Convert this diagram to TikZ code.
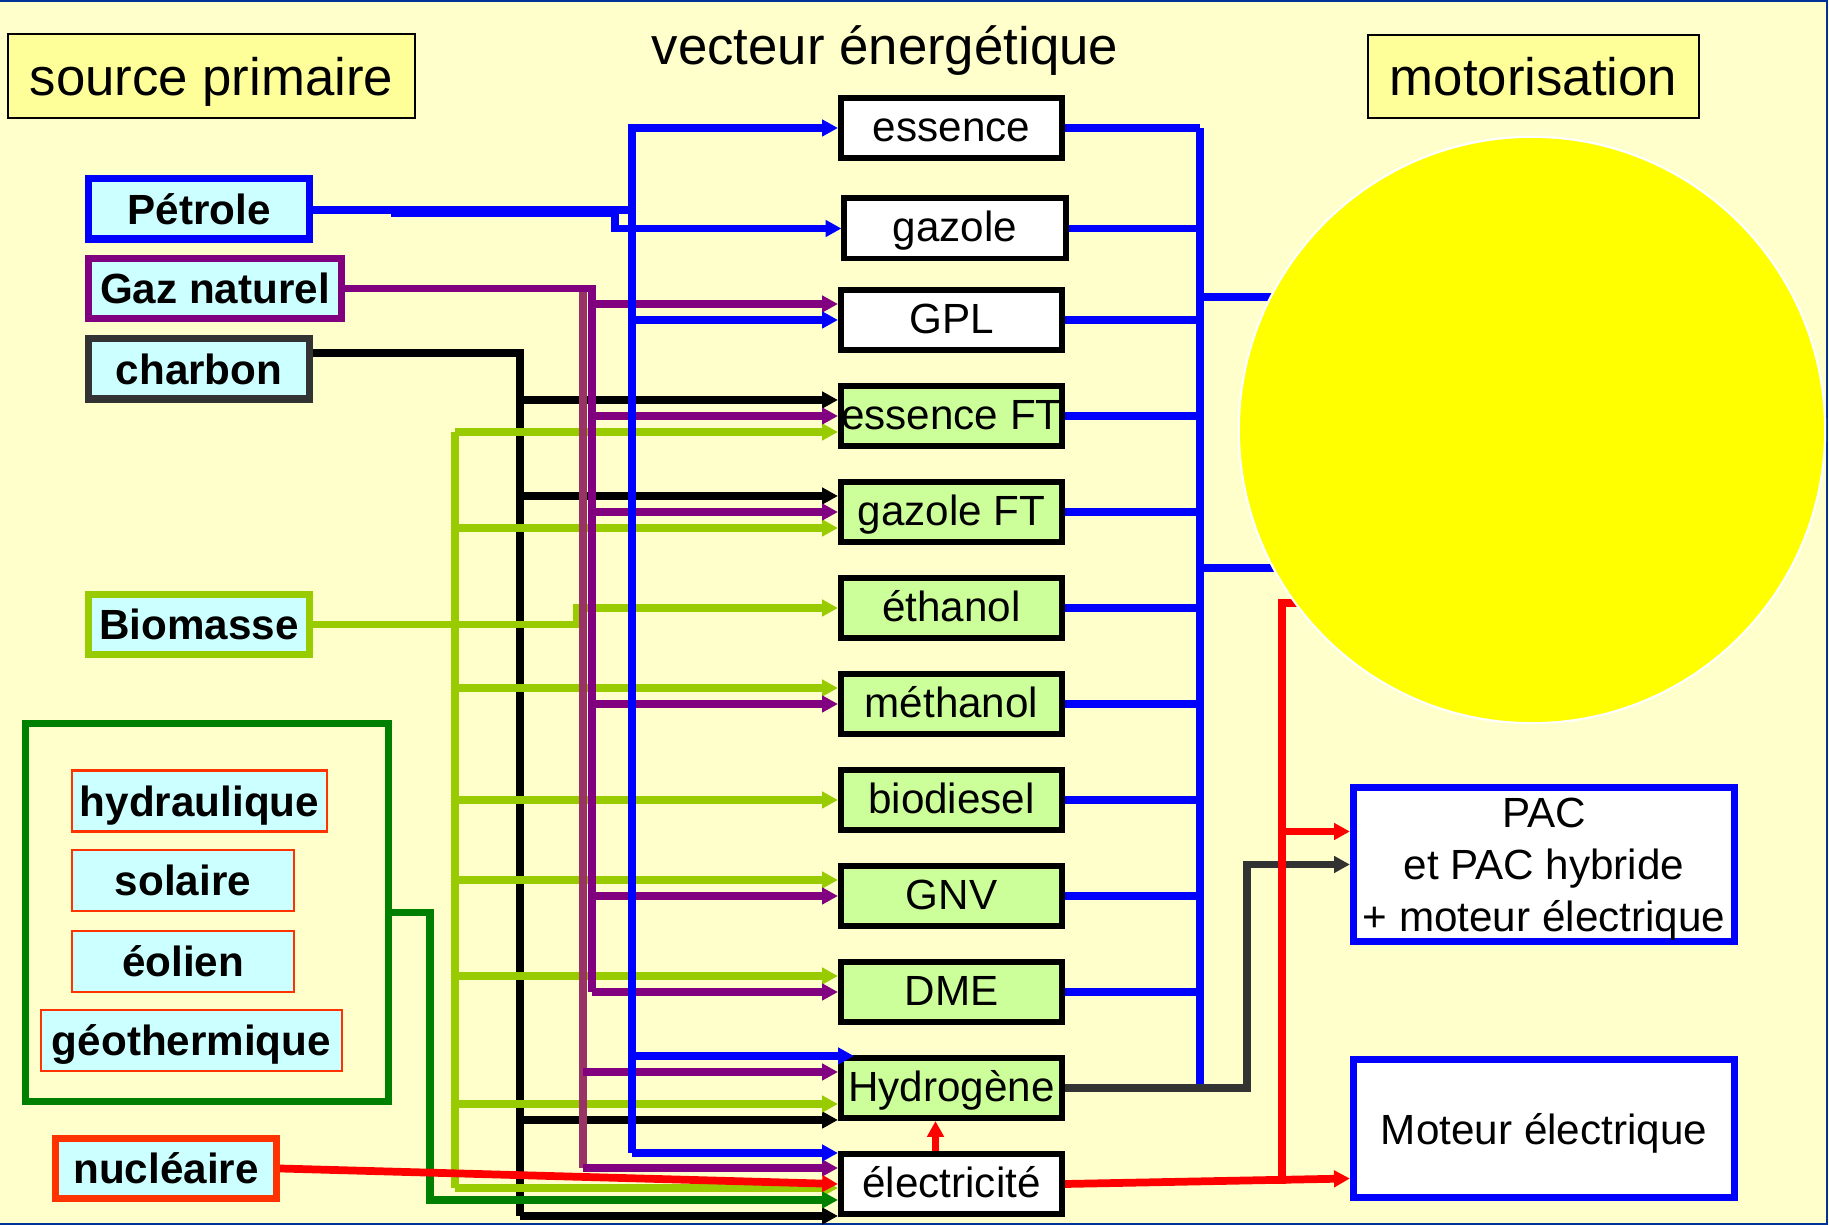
\documentclass[tikz,border=0pt]{standalone}
\usepackage{fontspec}
\setmainfont{Liberation Sans}
\usepackage{tikz}
\usetikzlibrary{calc,arrows.meta,positioning}
\definecolor{bgYellow}{RGB}{255,255,204}
\definecolor{titleYellow}{RGB}{255,255,153}
\definecolor{srcCyan}{RGB}{204,255,255}
\definecolor{fuelGreen}{RGB}{204,255,153}
\definecolor{oilBlue}{RGB}{0,0,255}
\definecolor{gasPurple}{RGB}{128,0,128}
\definecolor{gasMaroon}{RGB}{153,51,102}
\definecolor{bioGreen}{RGB}{153,204,0}
\definecolor{renGreen}{RGB}{0,128,0}
\definecolor{coalGray}{RGB}{51,51,51}
\definecolor{nucRed}{RGB}{255,51,0}
\definecolor{elecRed}{RGB}{255,0,0}
\definecolor{sunYellow}{RGB}{255,255,0}
\definecolor{frameNavy}{RGB}{0,51,153}

% arrow from a vertical bus into the west side of a fuel box
\newcommand{\feedline}[4]{%
  \draw[#1,->] let \p1=($(#3.west)+(0,#4)$), \p2=(#2) in (\x2,\y1) -- (\p1);}

\begin{document}
\begin{tikzpicture}[x=0.01cm, y=-0.01cm,
  >={Triangle[length=4.5pt,width=4.6pt]},
  title/.style={draw=black, line width=0.6pt, fill=titleYellow, inner sep=0pt,
    text depth=0pt, font=\fontsize{15}{18}\selectfont},
  srcbox/.style={fill=srcCyan, line width=2pt, inner sep=0pt,
    minimum width=2.21cm, minimum height=0.6cm, font=\bfseries\fontsize{12}{14}\selectfont},
  renbox/.style={fill=srcCyan, draw=nucRed, line width=0.6pt, inner sep=0pt,
    text depth=0pt, minimum height=0.61cm, font=\bfseries\fontsize{12}{14}\selectfont},
  fuel/.style={draw=black, fill=fuelGreen, line width=1.7pt, inner sep=0pt,
    text height=10pt, text depth=2.6pt,
    minimum width=2.21cm, minimum height=0.6cm, font=\fontsize{12}{14}\selectfont},
  rawfuel/.style={fuel, fill=white},
  motbox/.style={draw=oilBlue, fill=white, line width=2pt, inner sep=0pt, text depth=0pt,
    minimum width=3.81cm, align=center, font=\fontsize{12}{14.8}\selectfont},
  sun/.style={circle, fill=sunYellow, draw=white, line width=0.6pt, inner sep=0pt,
    minimum size=5.86cm},
  link/.style={line width=2pt},
  oilln/.style={link, draw=oilBlue},
  gasln/.style={link, draw=gasPurple},
  maroonln/.style={link, draw=gasMaroon},
  coalln/.style={link, draw=black},
  bioln/.style={link, draw=bioGreen},
  renln/.style={link, draw=renGreen},
  h2ln/.style={link, draw=coalGray},
  elecln/.style={link, line width=2.2pt, draw=elecRed}]

\useasboundingbox (0,0) rectangle (1829,1225);
\fill[bgYellow] (0,0) rectangle (1829,1225);
\draw[frameNavy, line width=0.8pt] (0,1) -- (1827,1) -- (1827,1224) -- (0,1224);

% column titles
\node[title, minimum width=4.07cm, minimum height=0.84cm] (srcTitle) at (211.5,76) {source primaire};
\node[font=\fontsize{15}{18}\selectfont] (vecTitle) at (885,51) {vecteur énergétique};
\node[title, minimum width=3.31cm, minimum height=0.83cm] (motTitle) at (1533.5,76.5) {motorisation};

% primary sources
\node[srcbox, draw=oilBlue] (petrole) at (199,209) {Pétrole};
\node[srcbox, draw=gasPurple, minimum width=2.53cm] (gaz) at (215,288.5) {Gaz naturel};
\node[srcbox, draw=coalGray] (charbon) at (199,369) {charbon};
\node[srcbox, draw=bioGreen] (biomasse) at (199,624.5) {Biomasse};
\node[draw=renGreen, line width=2pt, minimum width=3.63cm, minimum height=3.78cm] (renew) at (207,912.5) {};
\node[renbox, minimum width=2.55cm] (hydraulique) at (199.5,801) {hydraulique};
\node[renbox, minimum width=2.22cm] (solaire) at (183,880.5) {solaire};
\node[renbox, minimum width=2.22cm] (eolien) at (183,961.5) {éolien};
\node[renbox, minimum width=3.01cm] (geothermie) at (191.5,1040.5) {géothermique};
\node[srcbox, draw=nucRed] (nucleaire) at (166,1168.5) {nucléaire};

% energy carriers
\node[rawfuel] (essence) at (951.5,128) {essence};
\node[rawfuel] (gazole) at (955,228.5) {gazole};
\node[rawfuel] (gpl) at (951.5,320) {GPL};
\node[fuel] (essft) at (951.5,416) {essence FT};
\node[fuel] (gazft) at (951.5,512) {gazole FT};
\node[fuel] (ethanol) at (951.5,608) {éthanol};
\node[fuel] (methanol) at (951.5,704) {méthanol};
\node[fuel] (biodiesel) at (951.5,800) {biodiesel};
\node[fuel] (gnv) at (951.5,896) {GNV};
\node[fuel] (dme) at (951.5,992) {DME};
\node[fuel] (hydrogene) at (951.5,1088) {Hydrogène};
\node[rawfuel] (elec) at (951.5,1184) {électricité};

% engines
\node[motbox, minimum height=1.54cm] (pac) at (1544,864.5) {PAC\\et PAC hybride\\+ moteur électrique};
\node[motbox, minimum height=1.38cm] (moteur) at (1544,1128.5) {Moteur électrique};

% bus positions
\coordinate (busL) at (391,0);
\coordinate (busR) at (430,0);
\coordinate (busB) at (455,0);
\coordinate (busC) at (520,0);
\coordinate (busS) at (577,0);
\coordinate (busM) at (583,0);
\coordinate (busG) at (592,0);
\coordinate (busJ) at (615,0);
\coordinate (busP) at (632,0);
\coordinate (busOut) at (1200,0);
\coordinate (busH) at (1247,0);
\coordinate (busE) at (1282,0);
\coordinate (hub) at (1532,430);

% charbon
\draw[coalln] let \p1=($(charbon.east)+(0,-16)$), \p2=($(elec.west)+(0,32)$), \p3=(busC) in
  (\p1) -- (\x3,\y1) -- (\x3,\y2);
\foreach \carrier/\dy in {essft/-16, gazft/-16, hydrogene/32, elec/32}
  {\feedline{coalln}{busC}{\carrier}{\dy}}

% biomasse
\draw[bioln] let \p1=($(essft.west)+(0,16)$), \p2=($(elec.west)+(0,4)$), \p3=(busB) in
  (\x3,\y1) -- (\x3,\y2);
\foreach \carrier/\dy in {essft/16, gazft/16, methanol/-16, biodiesel/0, gnv/-16, dme/-16, hydrogene/16, elec/4}
  {\feedline{bioln}{busB}{\carrier}{\dy}}
\draw[bioln,->] (biomasse.east) -- (biomasse.east -| busS) |- (ethanol.west);

% renouvelables
\draw[renln,->] let \p1=($(elec.west)+(0,16)$), \p2=(busR) in
  (renew.east) -- (renew.east -| busR) -- (\x2,\y1) -- (\p1);

% gaz naturel
\draw[maroonln] let \p1=(gaz.east), \p2=($(elec.west)+(0,-16)$), \p3=(busM) in
  (\x3,\y1) -- (\x3,\y2);
\draw[gasln] let \p1=(dme.west), \p2=(busG) in
  (gaz.east) -- (gaz.east -| busG) -- (\x2,\y1);
\foreach \carrier/\dy in {gpl/-16, essft/0, gazft/0, methanol/0, gnv/0, dme/0}
  {\feedline{gasln}{busG}{\carrier}{\dy}}
\foreach \carrier/\dy in {hydrogene/-16, elec/-16}
  {\feedline{gasln}{busM}{\carrier}{\dy}}

% petrole
\draw[oilln,->] let \p1=($(petrole.east)+(0,1)$), \p2=(busP) in
  (\p1) -- (\x2,\y1) |- (essence.west);
\draw[oilln,->] let \p1=($(petrole.east)+(0,4)$), \p2=(busL), \p3=(busJ) in
  (\x2,\y1) -- (\x3,\y1) |- (gazole.west);
\draw[oilln] let \p1=(petrole.east), \p2=($(elec.west)+(0,-31)$), \p3=(busP) in
  (\x3,\y1) -- (\x3,\y2);
\foreach \carrier/\dy in {gpl/0, elec/-31}
  {\feedline{oilln}{busP}{\carrier}{\dy}}
\draw[oilln,->] let \p1=($(hydrogene.west)+(16,-32)$), \p2=(busP) in (\x2,\y1) -- (\p1);

% vers les moteurs
\foreach \carrier in {essence,gazole,gpl,essft,gazft,ethanol,methanol,biodiesel,gnv,dme}
  {\draw[oilln] (\carrier.east) -- (\carrier.east -| busOut);}
\draw[oilln, line width=2.5pt] (essence.east -| busOut) -- (hydrogene.east -| busOut);
\foreach \dy in {-133,138}
  {\draw[oilln] let \p1=($(hub)+(0,\dy)$), \p2=(busOut) in (\x2,\y1) -- (\p1);}
\draw[h2ln,->] (hydrogene.east) -- (hydrogene.east -| busH) |- (pac.west);
\draw[elecln,->] (elec.east) -- ($(moteur.west)+(0,50)$);
\draw[elecln] let \p1=(elec.east), \p2=(busE), \p3=($(hub)+(0,173)$) in
  (\x2,\y1) -- (\x2,\y3) -- (\p3);
\draw[elecln,->] let \p1=($(pac.west)+(0,-33)$), \p2=(busE) in (\x2,\y1) -- (\p1);

% nucleaire, electrolyse
\draw[elecln,->] (nucleaire.east) -- (elec.west);
\draw[elecln,->] ($(elec.north)+(-16,0)$) -- ($(hydrogene.south)+(-16,0)$);

\node[sun] (engine) at (hub) {};
\end{tikzpicture}
\end{document}
